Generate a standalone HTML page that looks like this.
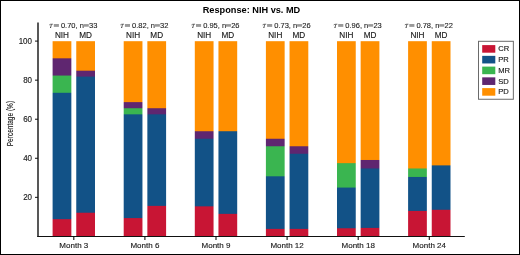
<!DOCTYPE html>
<html><head><meta charset="utf-8">
<style>
html,body{margin:0;padding:0;background:#fff;}
body{width:520px;height:255px;overflow:hidden;}
svg{display:block;will-change:transform;}
text{font-family:"Liberation Sans",sans-serif;fill:#1a1a1a;stroke:#1a1a1a;stroke-width:0.14px;}
.title{stroke:none;}
.tau{stroke-width:0.1px;}
.title{font-size:9.2px;font-weight:bold;fill:#000;}
.tau{font-size:7.5px;}
.lab{font-size:8.2px;}
.tk{font-size:8.4px;}
.xl{font-size:8px;}
.tg{font-family:"Liberation Serif",serif;font-style:italic;font-size:10.5px;}
.yl{font-size:8.6px;}
.lg{font-size:7.6px;}
</style></head><body>
<svg width="520" height="255" viewBox="0 0 520 255">
<rect x="0" y="0" width="520" height="255" fill="#fff"/>
<mask id="cb0" maskUnits="userSpaceOnUse" x="0" y="0" width="520" height="255"><rect x="52.60" y="41.10" width="18.75" height="195.30" fill="#fff"/></mask><g mask="url(#cb0)">
<rect x="50.60" y="41.10" width="22.75" height="196.30" fill="#ff8f00"/>
<rect x="50.60" y="58.33" width="22.75" height="179.07" fill="#5f2670"/>
<rect x="50.60" y="75.56" width="22.75" height="161.84" fill="#3ab550"/>
<rect x="50.60" y="92.80" width="22.75" height="144.60" fill="#125287"/>
<rect x="50.60" y="219.17" width="22.75" height="18.23" fill="#c81534"/>
</g>
<mask id="cb1" maskUnits="userSpaceOnUse" x="0" y="0" width="520" height="255"><rect x="76.25" y="41.10" width="18.75" height="195.30" fill="#fff"/></mask><g mask="url(#cb1)">
<rect x="74.25" y="41.10" width="22.75" height="196.30" fill="#ff8f00"/>
<rect x="74.25" y="70.69" width="22.75" height="166.71" fill="#5f2670"/>
<rect x="74.25" y="76.61" width="22.75" height="160.79" fill="#125287"/>
<rect x="74.25" y="212.73" width="22.75" height="24.67" fill="#c81534"/>
</g>
<mask id="cb2" maskUnits="userSpaceOnUse" x="0" y="0" width="520" height="255"><rect x="123.70" y="41.10" width="18.75" height="195.30" fill="#fff"/></mask><g mask="url(#cb2)">
<rect x="121.70" y="41.10" width="22.75" height="196.30" fill="#ff8f00"/>
<rect x="121.70" y="102.13" width="22.75" height="135.27" fill="#5f2670"/>
<rect x="121.70" y="108.23" width="22.75" height="129.17" fill="#3ab550"/>
<rect x="121.70" y="114.34" width="22.75" height="123.06" fill="#125287"/>
<rect x="121.70" y="218.09" width="22.75" height="19.31" fill="#c81534"/>
</g>
<mask id="cb3" maskUnits="userSpaceOnUse" x="0" y="0" width="520" height="255"><rect x="147.35" y="41.10" width="18.75" height="195.30" fill="#fff"/></mask><g mask="url(#cb3)">
<rect x="145.35" y="41.10" width="22.75" height="196.30" fill="#ff8f00"/>
<rect x="145.35" y="108.23" width="22.75" height="129.17" fill="#5f2670"/>
<rect x="145.35" y="114.34" width="22.75" height="123.06" fill="#125287"/>
<rect x="145.35" y="205.88" width="22.75" height="31.52" fill="#c81534"/>
</g>
<mask id="cb4" maskUnits="userSpaceOnUse" x="0" y="0" width="520" height="255"><rect x="194.80" y="41.10" width="18.75" height="195.30" fill="#fff"/></mask><g mask="url(#cb4)">
<rect x="192.80" y="41.10" width="22.75" height="196.30" fill="#ff8f00"/>
<rect x="192.80" y="131.24" width="22.75" height="106.16" fill="#5f2670"/>
<rect x="192.80" y="138.75" width="22.75" height="98.65" fill="#125287"/>
<rect x="192.80" y="206.35" width="22.75" height="31.05" fill="#c81534"/>
</g>
<mask id="cb5" maskUnits="userSpaceOnUse" x="0" y="0" width="520" height="255"><rect x="218.45" y="41.10" width="18.75" height="195.30" fill="#fff"/></mask><g mask="url(#cb5)">
<rect x="216.45" y="41.10" width="22.75" height="196.30" fill="#ff8f00"/>
<rect x="216.45" y="131.24" width="22.75" height="106.16" fill="#125287"/>
<rect x="216.45" y="213.87" width="22.75" height="23.53" fill="#c81534"/>
</g>
<mask id="cb6" maskUnits="userSpaceOnUse" x="0" y="0" width="520" height="255"><rect x="265.90" y="41.10" width="18.75" height="195.30" fill="#fff"/></mask><g mask="url(#cb6)">
<rect x="263.90" y="41.10" width="22.75" height="196.30" fill="#ff8f00"/>
<rect x="263.90" y="138.75" width="22.75" height="98.65" fill="#5f2670"/>
<rect x="263.90" y="146.26" width="22.75" height="91.14" fill="#3ab550"/>
<rect x="263.90" y="176.31" width="22.75" height="61.09" fill="#125287"/>
<rect x="263.90" y="228.89" width="22.75" height="8.51" fill="#c81534"/>
</g>
<mask id="cb7" maskUnits="userSpaceOnUse" x="0" y="0" width="520" height="255"><rect x="289.55" y="41.10" width="18.75" height="195.30" fill="#fff"/></mask><g mask="url(#cb7)">
<rect x="287.55" y="41.10" width="22.75" height="196.30" fill="#ff8f00"/>
<rect x="287.55" y="146.26" width="22.75" height="91.14" fill="#5f2670"/>
<rect x="287.55" y="153.77" width="22.75" height="83.63" fill="#125287"/>
<rect x="287.55" y="228.89" width="22.75" height="8.51" fill="#c81534"/>
</g>
<mask id="cb8" maskUnits="userSpaceOnUse" x="0" y="0" width="520" height="255"><rect x="337.00" y="41.10" width="18.75" height="195.30" fill="#fff"/></mask><g mask="url(#cb8)">
<rect x="335.00" y="41.10" width="22.75" height="196.30" fill="#ff8f00"/>
<rect x="335.00" y="163.16" width="22.75" height="74.24" fill="#3ab550"/>
<rect x="335.00" y="187.57" width="22.75" height="49.83" fill="#125287"/>
<rect x="335.00" y="228.26" width="22.75" height="9.14" fill="#c81534"/>
</g>
<mask id="cb9" maskUnits="userSpaceOnUse" x="0" y="0" width="520" height="255"><rect x="360.65" y="41.10" width="18.75" height="195.30" fill="#fff"/></mask><g mask="url(#cb9)">
<rect x="358.65" y="41.10" width="22.75" height="196.30" fill="#ff8f00"/>
<rect x="358.65" y="159.98" width="22.75" height="77.42" fill="#5f2670"/>
<rect x="358.65" y="168.47" width="22.75" height="68.93" fill="#125287"/>
<rect x="358.65" y="227.91" width="22.75" height="9.49" fill="#c81534"/>
</g>
<mask id="cb10" maskUnits="userSpaceOnUse" x="0" y="0" width="520" height="255"><rect x="408.10" y="41.10" width="18.75" height="195.30" fill="#fff"/></mask><g mask="url(#cb10)">
<rect x="406.10" y="41.10" width="22.75" height="196.30" fill="#ff8f00"/>
<rect x="406.10" y="168.47" width="22.75" height="68.93" fill="#3ab550"/>
<rect x="406.10" y="176.96" width="22.75" height="60.44" fill="#125287"/>
<rect x="406.10" y="210.93" width="22.75" height="26.47" fill="#c81534"/>
</g>
<mask id="cb11" maskUnits="userSpaceOnUse" x="0" y="0" width="520" height="255"><rect x="431.75" y="41.10" width="18.75" height="195.30" fill="#fff"/></mask><g mask="url(#cb11)">
<rect x="429.75" y="41.10" width="22.75" height="196.30" fill="#ff8f00"/>
<rect x="429.75" y="165.38" width="22.75" height="72.02" fill="#125287"/>
<rect x="429.75" y="209.77" width="22.75" height="27.63" fill="#c81534"/>
</g>
<line x1="38.0" y1="22.5" x2="38.0" y2="237.0" stroke="#111" stroke-width="1.4"/>
<line x1="37.3" y1="236.5" x2="464.8" y2="236.5" stroke="#111" stroke-width="1.2"/>
<line x1="35.0" y1="197.34" x2="38.0" y2="197.34" stroke="#111" stroke-width="1"/>
<text transform="translate(32.00,200.24) scale(0.95,1)" text-anchor="end" class="tk">20</text>
<line x1="35.0" y1="158.28" x2="38.0" y2="158.28" stroke="#111" stroke-width="1"/>
<text transform="translate(32.00,161.18) scale(0.95,1)" text-anchor="end" class="tk">40</text>
<line x1="35.0" y1="119.22" x2="38.0" y2="119.22" stroke="#111" stroke-width="1"/>
<text transform="translate(32.00,122.12) scale(0.95,1)" text-anchor="end" class="tk">60</text>
<line x1="35.0" y1="80.16" x2="38.0" y2="80.16" stroke="#111" stroke-width="1"/>
<text transform="translate(32.00,83.06) scale(0.95,1)" text-anchor="end" class="tk">80</text>
<line x1="35.0" y1="41.10" x2="38.0" y2="41.10" stroke="#111" stroke-width="1"/>
<text transform="translate(32.00,44.00) scale(0.95,1)" text-anchor="end" class="tk">100</text>
<line x1="73.80" y1="236.4" x2="73.80" y2="239.9" stroke="#111" stroke-width="1.1"/>
<text x="73.80" y="248.1" text-anchor="middle" class="xl">Month 3</text>
<g transform="translate(0.00,0)"><path d="M49.3,24.9 Q49.8,24.1 52.9,24.2" stroke="#333" stroke-width="0.7" fill="none"/><path d="M51.4,24.4 Q51.0,26.0 50.7,27.3" stroke="#333" stroke-width="0.8" fill="none"/><circle cx="50.6" cy="27.5" r="0.55" fill="#222"/></g>
<rect x="53.80" y="24.0" width="5.1" height="2.9" fill="#999"/>
<text x="60.95" y="28.3" class="tau">0.70, n</text>
<rect x="83.80" y="24.1" width="5.0" height="2.6" fill="#999"/>
<text x="89.00" y="28.3" class="tau">33</text>
<text x="61.97" y="37.7" text-anchor="middle" class="lab">NIH</text>
<text x="85.62" y="37.7" text-anchor="middle" class="lab">MD</text>
<line x1="144.90" y1="236.4" x2="144.90" y2="239.9" stroke="#111" stroke-width="1.1"/>
<text x="144.90" y="248.1" text-anchor="middle" class="xl">Month 6</text>
<g transform="translate(71.10,0)"><path d="M49.3,24.9 Q49.8,24.1 52.9,24.2" stroke="#333" stroke-width="0.7" fill="none"/><path d="M51.4,24.4 Q51.0,26.0 50.7,27.3" stroke="#333" stroke-width="0.8" fill="none"/><circle cx="50.6" cy="27.5" r="0.55" fill="#222"/></g>
<rect x="124.90" y="24.0" width="5.1" height="2.9" fill="#999"/>
<text x="132.05" y="28.3" class="tau">0.82, n</text>
<rect x="154.90" y="24.1" width="5.0" height="2.6" fill="#999"/>
<text x="160.10" y="28.3" class="tau">32</text>
<text x="133.07" y="37.7" text-anchor="middle" class="lab">NIH</text>
<text x="156.72" y="37.7" text-anchor="middle" class="lab">MD</text>
<line x1="216.00" y1="236.4" x2="216.00" y2="239.9" stroke="#111" stroke-width="1.1"/>
<text x="216.00" y="248.1" text-anchor="middle" class="xl">Month 9</text>
<g transform="translate(142.20,0)"><path d="M49.3,24.9 Q49.8,24.1 52.9,24.2" stroke="#333" stroke-width="0.7" fill="none"/><path d="M51.4,24.4 Q51.0,26.0 50.7,27.3" stroke="#333" stroke-width="0.8" fill="none"/><circle cx="50.6" cy="27.5" r="0.55" fill="#222"/></g>
<rect x="196.00" y="24.0" width="5.1" height="2.9" fill="#999"/>
<text x="203.15" y="28.3" class="tau">0.95, n</text>
<rect x="226.00" y="24.1" width="5.0" height="2.6" fill="#999"/>
<text x="231.20" y="28.3" class="tau">26</text>
<text x="204.18" y="37.7" text-anchor="middle" class="lab">NIH</text>
<text x="227.82" y="37.7" text-anchor="middle" class="lab">MD</text>
<line x1="287.10" y1="236.4" x2="287.10" y2="239.9" stroke="#111" stroke-width="1.1"/>
<text x="287.10" y="248.1" text-anchor="middle" class="xl">Month 12</text>
<g transform="translate(213.30,0)"><path d="M49.3,24.9 Q49.8,24.1 52.9,24.2" stroke="#333" stroke-width="0.7" fill="none"/><path d="M51.4,24.4 Q51.0,26.0 50.7,27.3" stroke="#333" stroke-width="0.8" fill="none"/><circle cx="50.6" cy="27.5" r="0.55" fill="#222"/></g>
<rect x="267.10" y="24.0" width="5.1" height="2.9" fill="#999"/>
<text x="274.25" y="28.3" class="tau">0.73, n</text>
<rect x="297.10" y="24.1" width="5.0" height="2.6" fill="#999"/>
<text x="302.30" y="28.3" class="tau">26</text>
<text x="275.27" y="37.7" text-anchor="middle" class="lab">NIH</text>
<text x="298.92" y="37.7" text-anchor="middle" class="lab">MD</text>
<line x1="358.20" y1="236.4" x2="358.20" y2="239.9" stroke="#111" stroke-width="1.1"/>
<text x="358.20" y="248.1" text-anchor="middle" class="xl">Month 18</text>
<g transform="translate(284.40,0)"><path d="M49.3,24.9 Q49.8,24.1 52.9,24.2" stroke="#333" stroke-width="0.7" fill="none"/><path d="M51.4,24.4 Q51.0,26.0 50.7,27.3" stroke="#333" stroke-width="0.8" fill="none"/><circle cx="50.6" cy="27.5" r="0.55" fill="#222"/></g>
<rect x="338.20" y="24.0" width="5.1" height="2.9" fill="#999"/>
<text x="345.35" y="28.3" class="tau">0.96, n</text>
<rect x="368.20" y="24.1" width="5.0" height="2.6" fill="#999"/>
<text x="373.40" y="28.3" class="tau">23</text>
<text x="346.38" y="37.7" text-anchor="middle" class="lab">NIH</text>
<text x="370.02" y="37.7" text-anchor="middle" class="lab">MD</text>
<line x1="429.30" y1="236.4" x2="429.30" y2="239.9" stroke="#111" stroke-width="1.1"/>
<text x="429.30" y="248.1" text-anchor="middle" class="xl">Month 24</text>
<g transform="translate(355.50,0)"><path d="M49.3,24.9 Q49.8,24.1 52.9,24.2" stroke="#333" stroke-width="0.7" fill="none"/><path d="M51.4,24.4 Q51.0,26.0 50.7,27.3" stroke="#333" stroke-width="0.8" fill="none"/><circle cx="50.6" cy="27.5" r="0.55" fill="#222"/></g>
<rect x="409.30" y="24.0" width="5.1" height="2.9" fill="#999"/>
<text x="416.45" y="28.3" class="tau">0.78, n</text>
<rect x="439.30" y="24.1" width="5.0" height="2.6" fill="#999"/>
<text x="444.50" y="28.3" class="tau">22</text>
<text x="417.48" y="37.7" text-anchor="middle" class="lab">NIH</text>
<text x="441.12" y="37.7" text-anchor="middle" class="lab">MD</text>
<text x="251.5" y="13.1" text-anchor="middle" class="title">Response: NIH vs. MD</text>
<text transform="translate(12.8,123.6) rotate(-90) scale(0.76,1)" text-anchor="middle" class="yl">Percentage (%)</text>
<rect x="478.5" y="41.3" width="34.85" height="57.95" fill="#fff" stroke="#6a6a6a" stroke-width="1"/>
<rect x="482.2" y="45.10" width="13.1" height="7.6" fill="#c81534"/>
<text x="498.2" y="51.30" class="lg">CR</text>
<rect x="482.2" y="55.85" width="13.1" height="7.6" fill="#125287"/>
<text x="498.2" y="62.05" class="lg">PR</text>
<rect x="482.2" y="66.60" width="13.1" height="7.6" fill="#3ab550"/>
<text x="498.2" y="72.80" class="lg">MR</text>
<rect x="482.2" y="77.35" width="13.1" height="7.6" fill="#5f2670"/>
<text x="498.2" y="83.55" class="lg">SD</text>
<rect x="482.2" y="88.10" width="13.1" height="7.6" fill="#ff8f00"/>
<text x="498.2" y="94.30" class="lg">PD</text>
<rect x="0.5" y="0.5" width="519" height="254" fill="none" stroke="#000" stroke-width="1"/>
</svg>
</body></html>
